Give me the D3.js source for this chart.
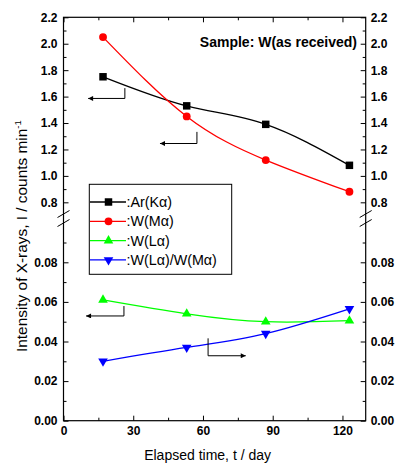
<!DOCTYPE html>
<html>
<head>
<meta charset="utf-8">
<script src="https://cdn.jsdelivr.net/npm/d3@7"></script>
<style>
  html, body { margin: 0; padding: 0; background: #fff; }
  svg { display: block; font-family: "Liberation Sans", Arial, sans-serif; }
</style>
</head>
<body>
<svg id="chart" width="396" height="463"></svg>
<script>
// Elapsed time of each measurement (days)
const days = [17, 53, 87, 123];

// Measured intensities (counts/min)
const arKa = [1.75, 1.53, 1.39, 1.08];
const wMa = [2.05, 1.45, 1.12, 0.88];
// Lower panel: W(Lα) intensity and W(Lα)/W(Mα) ratio
const wLa = [0.061, 0.054, 0.050, 0.0505];
const ratioLaMa = [0.030, 0.037, 0.044, 0.0565];

// Axis ticks
const xTicks = [0, 30, 60, 90, 120];
const xMinor = [15, 45, 75, 105];
const yTopTicks = [0.8, 1.0, 1.2, 1.4, 1.6, 1.8, 2.0, 2.2];
const yTopMinor = [0.9, 1.1, 1.3, 1.5, 1.7, 1.9, 2.1];
const yBotTicks = [0.00, 0.02, 0.04, 0.06, 0.08];
const yBotMinor = [0.01, 0.03, 0.05, 0.07, 0.09];

// Pointer arrows: which axis each curve belongs to
// [x of vertical stem, y start, y end, x of arrow tip, panel]
const pointers = [
  { x: 26.4, y0: 1.664, y1: 1.586, tip: 10.6, panel: "top" },
  { x: 57.4, y0: 1.333, y1: 1.245, tip: 41.5, panel: "top" },
  { x: 26.0, y0: 0.0579, y1: 0.0529, tip: 9.7, panel: "bot" },
  { x: 62.2, y0: 0.0416, y1: 0.0328, tip: 78.4, panel: "bot" }
];

const legendLabels = [":Ar(K\u03b1)", ":W(M\u03b1)", ":W(L\u03b1)", ":W(L\u03b1)/W(M\u03b1)"];

const L = 63.5, R = 365.7, T = 17.3, B = 420.7;

const svg = d3.select("#chart");

const x = d3.scaleLinear().domain([0, 130]).range([L, R]);
const yTop = d3.scaleLinear().domain([0.72, 2.2]).range([212.9, T]);
const yBot = d3.scaleLinear().domain([0, 0.1]).range([B, 222.7]);

const axisStyle = g => {
  g.selectAll("path.domain").remove();
  g.selectAll("line").attr("stroke", "#000").attr("stroke-width", 1);
  g.selectAll("text").attr("font-size", 12).attr("font-weight", "bold").attr("fill", "#000")
    .attr("font-family", "'Liberation Sans', Arial, sans-serif");
};

// frame
svg.append("rect").attr("x", L).attr("y", T).attr("width", R - L).attr("height", B - T)
  .attr("fill", "none").attr("stroke", "#000").attr("stroke-width", 1.2);

// bottom / top axes
svg.append("g").attr("transform", `translate(0,${B})`)
  .call(d3.axisBottom(x).tickValues(xTicks).tickSizeInner(-5).tickSizeOuter(0).tickPadding(6).tickFormat(d3.format("d")))
  .call(axisStyle);
svg.append("g").attr("transform", `translate(0,${B})`)
  .call(d3.axisBottom(x).tickValues(xMinor).tickSizeInner(-3).tickSizeOuter(0).tickFormat(""))
  .call(axisStyle);
svg.append("g").attr("transform", `translate(0,${T})`)
  .call(d3.axisTop(x).tickValues(xTicks).tickSizeInner(-5).tickSizeOuter(0).tickFormat(""))
  .call(axisStyle);
svg.append("g").attr("transform", `translate(0,${T})`)
  .call(d3.axisTop(x).tickValues(xMinor).tickSizeInner(-3).tickSizeOuter(0).tickFormat(""))
  .call(axisStyle);

// left / right axes for both panels
[[yTop, yTopTicks, yTopMinor, d3.format(".1f")], [yBot, yBotTicks, yBotMinor, d3.format(".2f")]]
  .forEach(([sc, maj, min, fmt]) => {
    svg.append("g").attr("transform", `translate(${L},0)`)
      .call(d3.axisLeft(sc).tickValues(maj).tickSizeInner(-5).tickSizeOuter(0).tickPadding(6).tickFormat(fmt))
      .call(axisStyle);
    svg.append("g").attr("transform", `translate(${L},0)`)
      .call(d3.axisLeft(sc).tickValues(min).tickSizeInner(-3).tickSizeOuter(0).tickFormat(""))
      .call(axisStyle);
    svg.append("g").attr("transform", `translate(${R},0)`)
      .call(d3.axisRight(sc).tickValues(maj).tickSizeInner(-5).tickSizeOuter(0).tickPadding(5).tickFormat(fmt))
      .call(axisStyle);
    svg.append("g").attr("transform", `translate(${R},0)`)
      .call(d3.axisRight(sc).tickValues(min).tickSizeInner(-3).tickSizeOuter(0).tickFormat(""))
      .call(axisStyle);
  });

// axis break marks
[L, R].forEach(ax => {
  [214, 223].forEach(yy => {
    svg.append("line").attr("x1", ax - 6).attr("y1", yy + 3.5).attr("x2", ax + 6).attr("y2", yy - 3.5)
      .attr("stroke", "#000").attr("stroke-width", 1);
  });
});

// series
const series = [
  { vals: arKa, y: yTop, color: "#000000", sym: d3.symbolSquare, size: 56, rot: 0 },
  { vals: wMa, y: yTop, color: "#ff0000", sym: d3.symbolCircle, size: 48, rot: 0 },
  { vals: wLa, y: yBot, color: "#00ff00", sym: d3.symbolTriangle, size: 40, rot: 0 },
  { vals: ratioLaMa, y: yBot, color: "#0000ff", sym: d3.symbolTriangle, size: 40, rot: 180 }
];

series.forEach(s => {
  const pts = days.map((d, i) => [x(d), s.y(s.vals[i])]);
  svg.append("path")
    .attr("d", d3.line().curve(d3.curveNatural)(pts))
    .attr("fill", "none").attr("stroke", s.color).attr("stroke-width", 1.3);
  svg.append("g").selectAll("path").data(pts).join("path")
    .attr("d", d3.symbol(s.sym, s.size))
    .attr("transform", p => `translate(${p[0]},${p[1]}) rotate(${s.rot})`)
    .attr("fill", s.color);
});

// pointer arrows
const defs = svg.append("defs");
defs.append("marker").attr("id", "head").attr("viewBox", "0 0 10 10")
  .attr("refX", 10).attr("refY", 5).attr("markerWidth", 8).attr("markerHeight", 5)
  .attr("markerUnits", "userSpaceOnUse").attr("orient", "auto")
  .append("path").attr("d", "M0,0L10,5L0,10Z").attr("fill", "#000");

pointers.forEach(p => {
  const ys = p.panel === "top" ? yTop : yBot;
  svg.append("polyline")
    .attr("points", [[x(p.x), ys(p.y0)], [x(p.x), ys(p.y1)], [x(p.tip), ys(p.y1)]].map(q => q.join(",")).join(" "))
    .attr("fill", "none").attr("stroke", "#000").attr("stroke-width", 1)
    .attr("marker-end", "url(#head)");
});

// legend
const lg = svg.append("g");
lg.append("rect").attr("x", 89.3).attr("y", 184.3).attr("width", 142.4).attr("height", 90)
  .attr("fill", "#fff").attr("stroke", "#000").attr("stroke-width", 1);
series.forEach((s, i) => {
  const yy = 202 + i * 19.3;
  lg.append("line").attr("x1", 90).attr("x2", 126).attr("y1", yy).attr("y2", yy)
    .attr("stroke", s.color).attr("stroke-width", 1.3);
  lg.append("path").attr("d", d3.symbol(s.sym, s.size))
    .attr("transform", `translate(108.5,${yy}) rotate(${s.rot})`).attr("fill", s.color);
  lg.append("text").attr("x", 126.5).attr("y", yy + 5).attr("font-size", 14.3).attr("fill", "#000")
    .text(legendLabels[i]);
});

// title inside plot
svg.append("text").attr("x", 357).attr("y", 47).attr("text-anchor", "end")
  .attr("font-size", 14).attr("font-weight", "bold").text("Sample: W(as received)");

// axis titles
svg.append("text").attr("x", (L + R) / 2 - 7).attr("y", 460).attr("text-anchor", "middle")
  .attr("font-size", 14).text("Elapsed time, t / day");

const yt = svg.append("text").attr("transform", "translate(27,352) rotate(-90)")
  .attr("text-anchor", "start").attr("font-size", 15.4);
yt.append("tspan").text("Intensity of X-rays, I / counts min");
yt.append("tspan").attr("dy", -6).attr("font-size", 9.5).text("-1");
</script>
</body>
</html>
